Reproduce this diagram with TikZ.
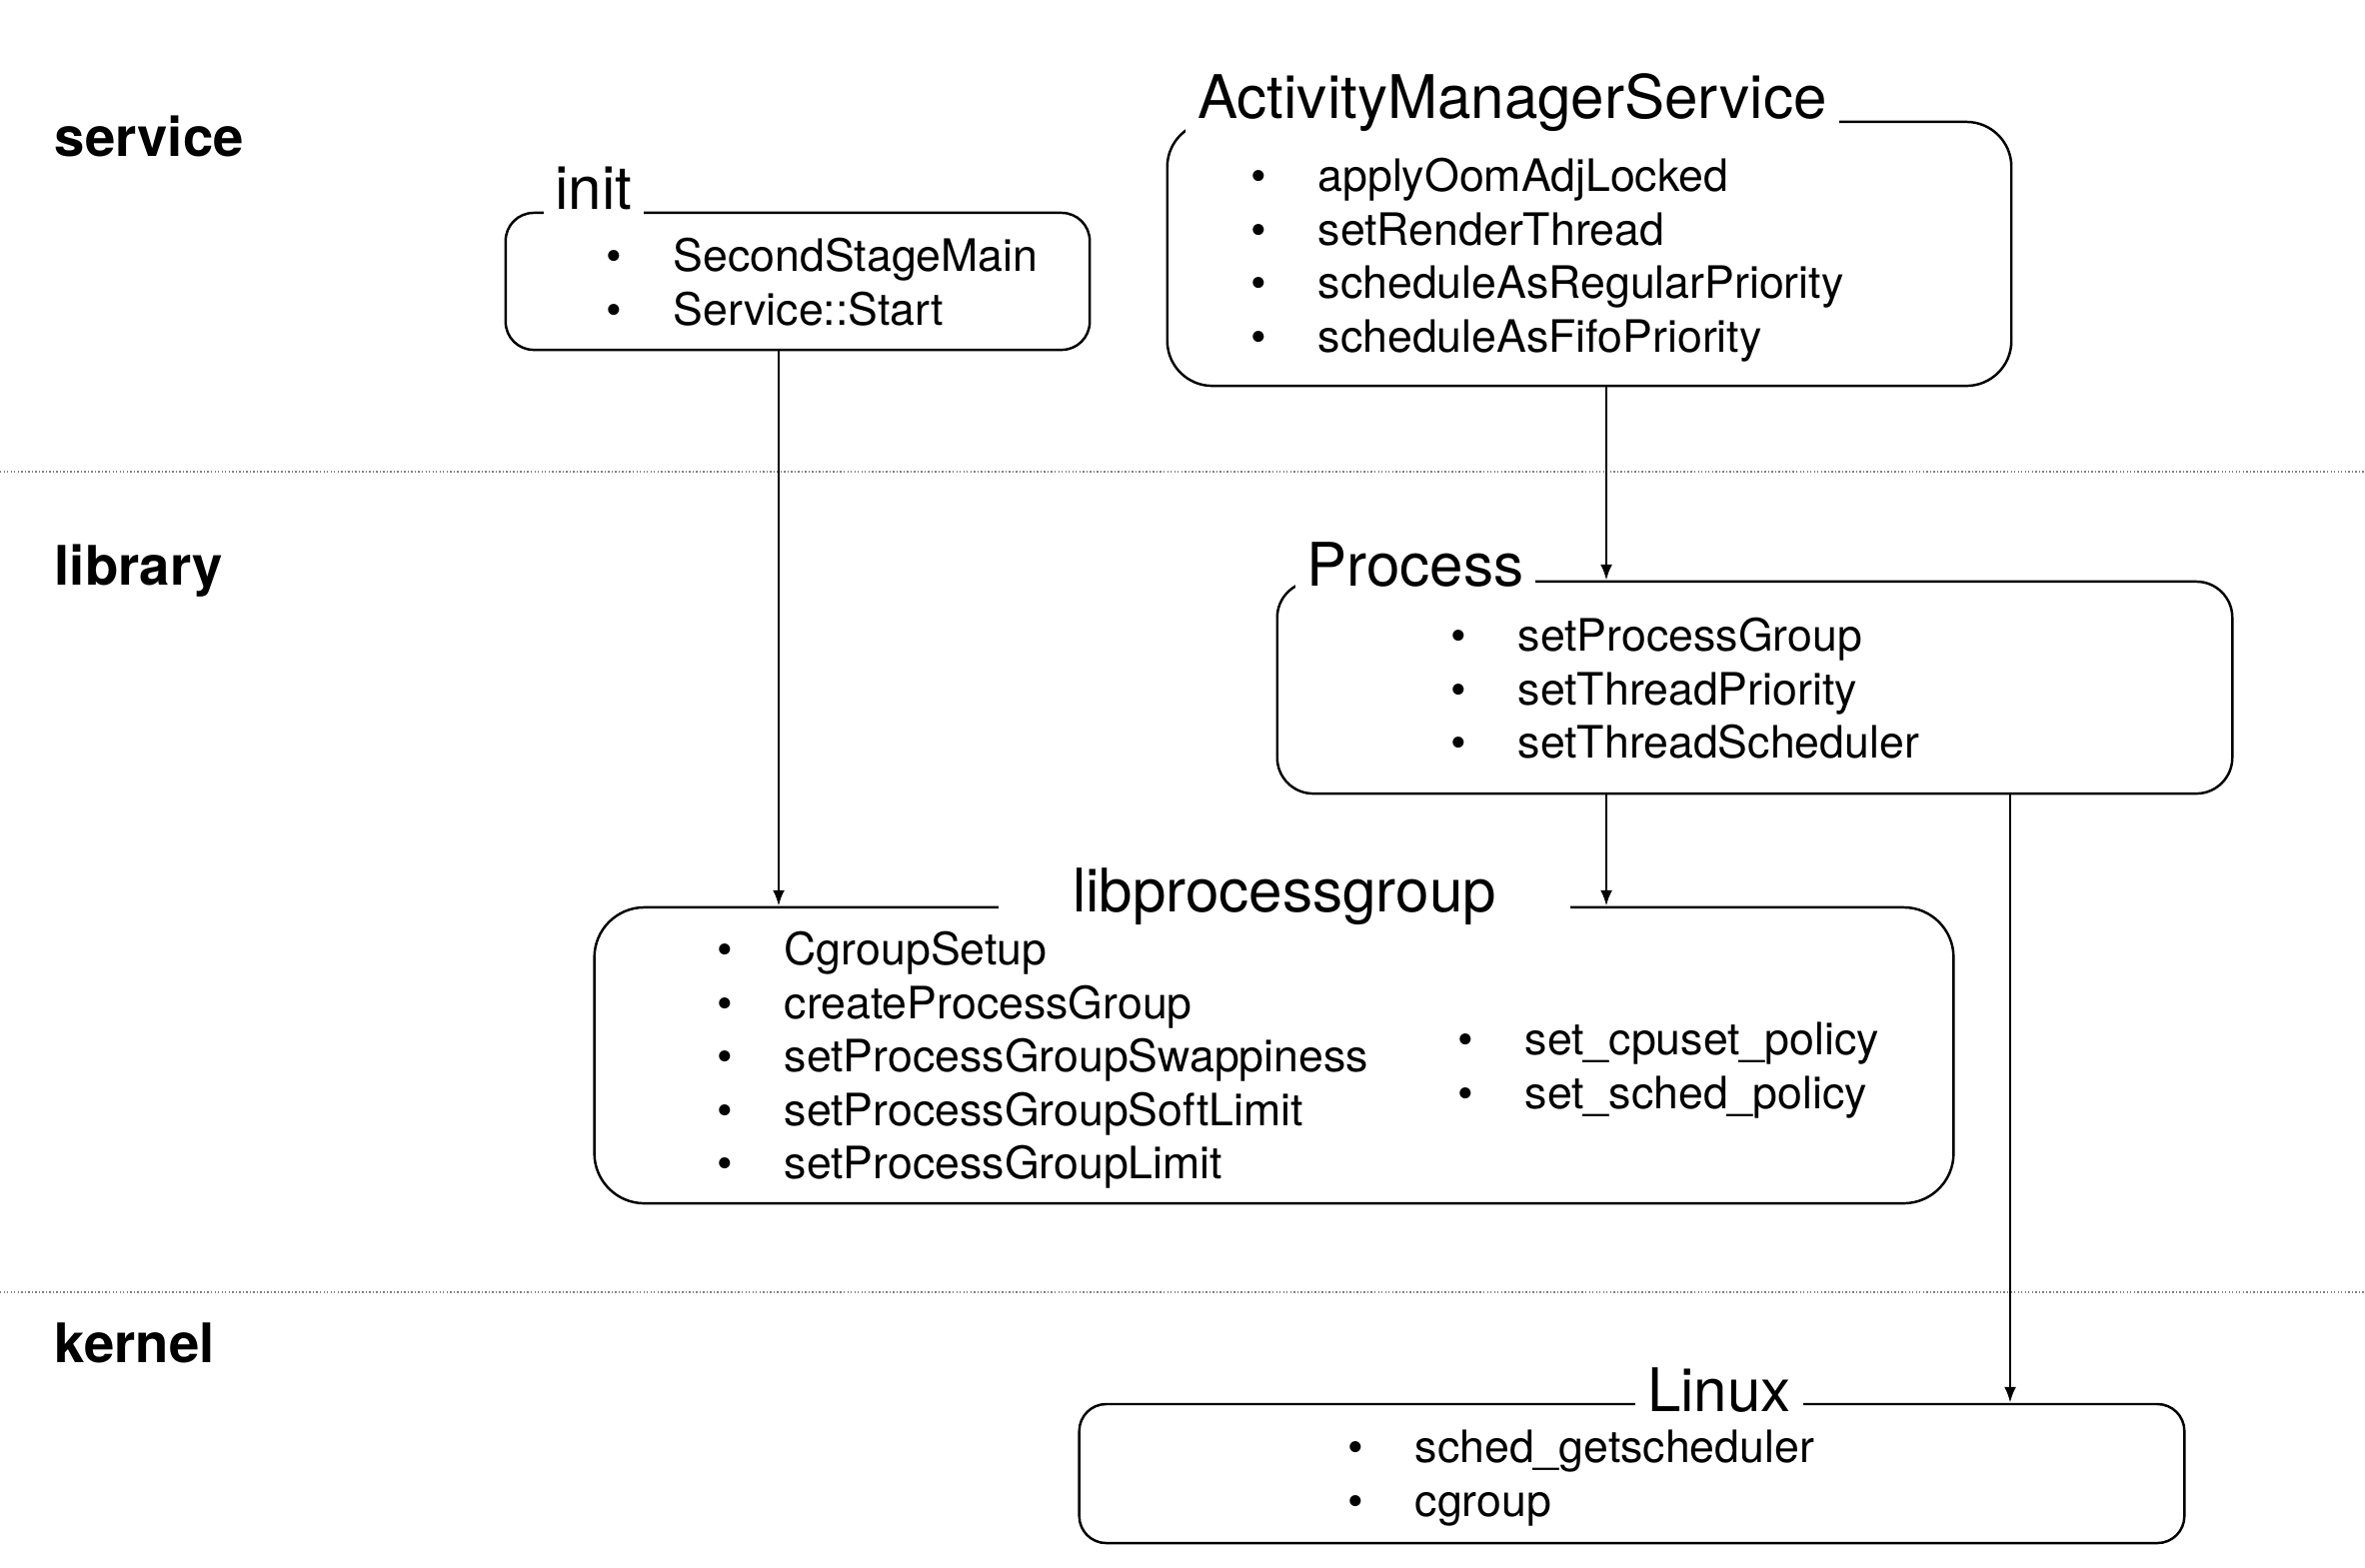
\documentclass[tikz,border=0pt]{standalone}
\usepackage{fontspec}
\setmainfont{TeX Gyre Heros}
\usetikzlibrary{arrows.meta}

\newcommand{\bul}{\makebox[0.67cm][l]{•}}

\tikzset{
  layer/.style={anchor=base west, inner sep=0, font=\fontsize{15.5}{18}\selectfont\bfseries},
  box/.style={draw, line width=0.7pt},
  title/.style={anchor=base, fill=white, inner xsep=0.12cm, inner ysep=0.08cm, font=\fontsize{17.1}{20}\selectfont},
  items/.style={anchor=west, align=left, inner sep=0, font=\fontsize{12.7}{15.2}\selectfont},
  arr/.style={line width=0.8pt, -{Latex[length=4.5pt,width=3.4pt]}},
  sep/.style={line width=0.4pt, gray, dash pattern=on 0.4pt off 0.6pt}
}

\begin{document}
\begin{tikzpicture}[x=0.01cm,y=-0.01cm]
\useasboundingbox (0,0) rectangle (2366,1568);

% layers
\draw[sep] (0,472) -- (2366,472);
\draw[sep] (0,1293) -- (2366,1293);
\node[layer] (service) at (54,156) {service};
\node[layer] (library) at (54,585) {library};
\node[layer] (kernel) at (54,1363) {kernel};

% boxes
\node[box, rounded corners=0.28cm, minimum width=5.84cm, minimum height=1.37cm] (init) at (798,281.5) {};
\node[box, rounded corners=0.45cm, minimum width=8.44cm, minimum height=2.64cm] (ams) at (1590,254) {};
\node[box, rounded corners=0.36cm, minimum width=9.55cm, minimum height=2.12cm] (proc) at (1755.5,688) {};
\node[box, rounded corners=0.5cm, minimum width=13.59cm, minimum height=2.96cm] (lib) at (1274.5,1056) {};
\node[box, rounded corners=0.27cm, minimum width=11.05cm, minimum height=1.39cm] (linux) at (1632.5,1474.5) {};

% titles
\node[title] (initT) at (594,209) {init};
\node[title] (amsT) at (1513,118) {ActivityManagerService};
\node[title] (procT) at (1416,586) {Process};
\node[title, inner xsep=0.74cm] (libT) at (1285,912) {libprocessgroup};
\node[title] (linuxT) at (1720,1412) {Linux};

% lists
\node[items] (initL) at (606,282) {\bul SecondStageMain\\ \bul Service::Start};
\node[items] (amsL) at (1251,260) {\bul applyOomAdjLocked\\ \bul setRenderThread\\
  \bul scheduleAsRegularPriority\\ \bul scheduleAsFifoPriority};
\node[items] (procL) at (1451,689) {\bul setProcessGroup\\ \bul setThreadPriority\\
  \bul setThreadScheduler};
\node[items] (libL) at (717,1061) {\bul CgroupSetup\\ \bul createProcessGroup\\
  \bul setProcessGroupSwappiness\\ \bul setProcessGroupSoftLimit\\ \bul setProcessGroupLimit};
\node[items] (libR) at (1458,1071) {\bul set\_cpuset\_policy\\ \bul set\_sched\_policy};
\node[items] (linuxL) at (1348,1479) {\bul sched\_getscheduler\\ \bul cgroup};

% calls
\coordinate (c1) at (779,0);
\coordinate (c2) at (1607,0);
\coordinate (c3) at (2011,0);
\draw[arr] (init.south -| c1) -- (lib.north -| c1);
\draw[arr] (ams.south -| c2) -- (proc.north -| c2);
\draw[arr] (proc.south -| c2) -- (lib.north -| c2);
\draw[arr] (proc.south -| c3) -- (linux.north -| c3);
\end{tikzpicture}
\end{document}
